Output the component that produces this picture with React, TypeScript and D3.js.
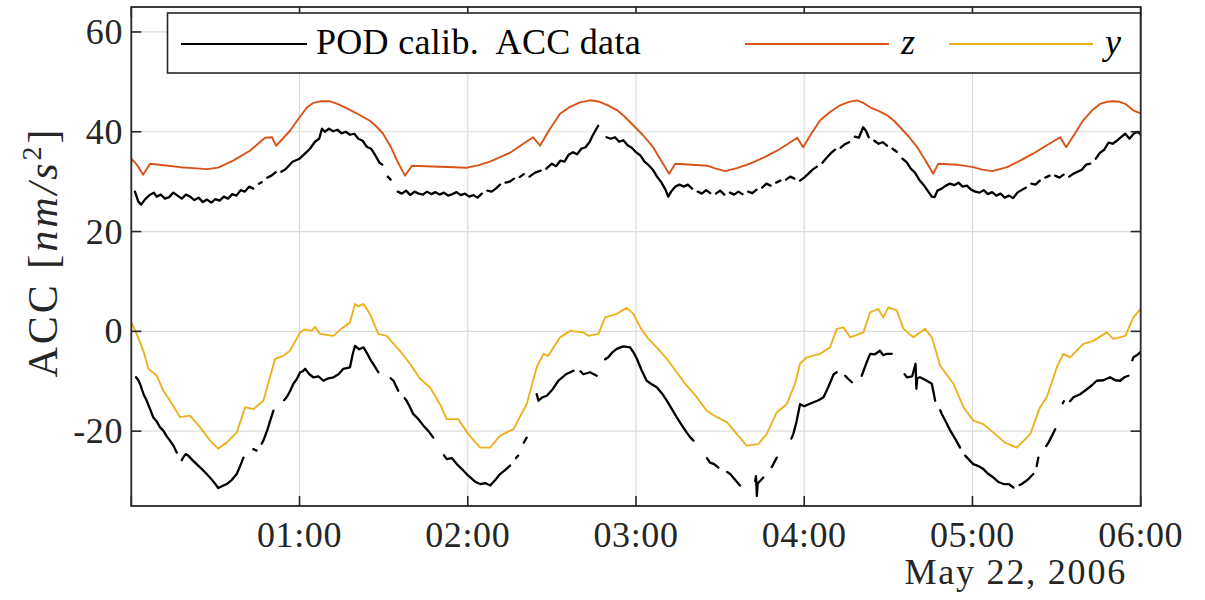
import React from "react";
import * as d3 from "d3";

// Time axis: minutes after 2006-05-22 00:00 UTC
type Pt = [number, number | null];

// Along-track z component, nm/s^2
const zSeries: Pt[] = [
  [0, 34.6], [2, 33.4], [4.2, 31.4], [6.7, 33.6], [10, 33.4], [17.4, 32.9], [22, 32.7], [27, 32.5],
  [31, 32.8], [36.3, 34.2], [42.3, 36.2], [47.7, 38.8], [50.2, 38.9], [51.6, 37.2], [54, 38.6],
  [56.6, 40.2], [59.5, 42.5], [62.7, 44.9], [65, 45.8], [67.3, 46.1], [70.9, 46.1], [73.5, 45.6],
  [76.2, 44.9], [80, 43.8], [85.1, 42.2], [87.5, 41.0], [89.8, 39.6], [92.5, 37.0], [94.8, 34.2],
  [97.6, 31.2], [100.1, 33.2], [105, 33.1], [110.1, 33.0], [115, 32.9], [119.7, 32.8], [124, 33.3],
  [127.9, 34.0], [131.5, 34.9], [135.1, 35.8], [139, 37.3], [143.3, 38.9], [145.8, 37.2], [149, 40.3],
  [152.9, 43.6], [156.5, 45.0], [160, 45.9], [163.6, 46.3], [167, 46.0], [170, 45.3], [173.3, 44.3],
  [176, 43.0], [179, 41.3], [182.5, 39.3], [186.1, 36.9], [189, 34.2], [191.8, 31.6], [194, 33.6],
  [200, 33.4], [205.4, 33.2], [208.5, 32.6], [211.8, 32.1], [216, 32.7], [220.7, 33.6], [225.5, 34.8],
  [230.3, 36.2], [234, 37.5], [237.5, 38.8], [239.6, 36.9], [242.5, 39.6], [245.7, 42.3], [249.3, 44.0],
  [252.8, 45.3], [256, 46.0], [258.9, 46.3], [261, 45.8], [263.5, 44.9], [266.5, 44.2], [269.6, 43.3],
  [272, 42.2], [274.2, 40.9], [277.3, 39.0], [280.3, 36.9], [283.2, 34.3], [286, 31.6], [287.8, 33.6],
  [294.5, 33.4], [300.2, 32.9], [303.5, 32.4], [307, 32.1], [312.4, 32.9], [317, 34.2], [321.6, 35.6],
  [326.5, 37.3], [331.3, 38.9], [333.4, 36.9], [336.5, 39.6], [339.5, 42.3], [342.5, 44.2], [345.6, 45.6],
  [348, 46.0], [350.2, 46.1], [352.5, 46.0], [354.5, 45.6], [357.3, 44.3], [360, 43.7],
];

// Cross-track y component, nm/s^2
const ySeries: Pt[] = [
  [0, 1.8], [1.9, -0.5], [4.3, -3.9], [6.1, -7.5], [9.1, -8.9], [11.4, -11.9], [13.8, -13.9],
  [17.4, -17.2], [20.9, -16.9], [24.5, -19.2], [28.1, -21.9], [31, -23.5], [34, -22.3], [37.6, -20.3],
  [40.6, -15.2], [43.5, -15.6], [47.1, -13.9], [51.3, -5.5], [54.2, -4.9], [56.6, -3.9], [60.2, -0.2],
  [62, 0.4], [64.3, 0.1], [65.5, 0.9], [67.3, -0.5], [72.1, -0.9], [74.4, 0.3], [78, 1.8], [79.8, 5.5],
  [81, 5.0], [82.8, 5.5], [85.1, 3.5], [88.1, -0.5], [91.1, -0.9], [95.8, -3.9], [99.4, -6.5],
  [103, -9.5], [106.5, -11.2], [110.1, -14.6], [112.5, -17.6], [116.6, -17.6], [120.2, -20.6],
  [124.4, -23.3], [128, -23.3], [131.5, -20.9], [136.3, -19.6], [141, -14.6], [144.6, -7.2],
  [147, -4.5], [148.7, -4.9], [152.9, -1.2], [156.5, 0.1], [161.2, -0.2], [163, -0.9], [166.6, -0.5],
  [169, 2.8], [173.1, 3.5], [176.7, 4.7], [179.1, 3.5], [181.5, 0.8], [184.4, -1.5], [187.4, -3.2],
  [191, -5.5], [194.5, -8.2], [198.1, -10.9], [201.7, -13.2], [205.2, -15.9], [208.8, -17.2],
  [212.4, -18.2], [216, -20.6], [219.5, -22.9], [223.6, -22.6], [226.6, -20.6], [230.2, -16.2],
  [233.8, -14.6], [236.7, -10.5], [238.5, -6.5], [240.9, -5.2], [245.7, -4.5], [249.2, -3.2],
  [251.6, 0.5], [254, 0.8], [256.4, -1.2], [261.1, -0.2], [263.5, 3.8], [266.4, 4.5], [268.2, 2.8],
  [270, 4.8], [273, 4.2], [275.4, 0.5], [278.9, -1.2], [283.1, 0.5], [285.5, -1.2], [288.5, -6.9],
  [293.2, -10.5], [296.8, -15.2], [300.3, -17.9], [303.9, -18.6], [307.5, -20.3], [311.6, -22.3],
  [315.8, -23.3], [320.6, -20.6], [324.1, -15.2], [326.5, -13.2], [330.1, -7.2], [332.4, -4.5],
  [334.8, -5.2], [339.6, -2.5], [343.1, -1.9], [347.9, -0.2], [350.3, -1.5], [354.5, -0.9],
  [357.4, 2.8], [360, 4.5],
];

// POD-calibrated accelerometer data, z component (null = data gap)
const podZ: Pt[] = [
  [1.3, 28.0], [2.5, 26.0], [3.5, 25.4], [5, 26.5], [6.5, 27.3], [8, 27.8], [9, 27.0], [10.5, 27.4],
  [12, 26.6], [13.5, 26.9], [15, 27.8], [16.5, 27.2], [18, 26.6], [19.5, 27.4], [21, 27.0], [22.5, 26.3],
  [24, 26.8], [25.5, 25.9], [27, 26.4], [28.5, 25.8], [30, 26.5], [31.5, 26.2], [33, 27.0], [34.5, 26.6],
  [36, 27.5], [37.5, 27.2], [39, 28.3], [40.5, 28.0], [42, 29.0], [43.5, 28.6], [44.5, null],
  [45.5, 29.6], [46.5, 29.9], [47.5, null], [48.5, 30.8], [50, 31.2], [51.5, 31.9], [52.5, null],
  [53.5, 32.0], [55, 32.5], [57.5, 34.0], [60, 34.6], [62.5, 35.9], [64, 36.8], [65.5, 38.0],
  [67, 38.6], [68, 40.6], [69, 40.0], [70.5, 40.6], [72, 40.1], [73.5, 40.4], [75, 39.7], [76.5, 40.0],
  [78, 39.4], [79.5, 39.6], [81, 38.6], [82.5, 38.2], [84, 37.0], [85.5, 36.6], [87, 35.3],
  [88.5, 33.8], [89.5, 33.4], [90.5, null], [91.5, 31.0], [92.5, 30.4], [93.5, null],
  [95, 28.0], [96.5, 27.6], [98, 28.2], [99.5, 27.3], [101, 28.0], [102.5, 27.6], [104, 27.4],
  [105.5, 28.0], [107, 27.5], [108.5, 27.9], [110, 27.4], [111.5, 27.8], [113, 27.2], [114.5, 27.5],
  [116, 27.9], [117.5, 27.3], [119, 27.6], [120.5, 27.0], [122, 27.3], [123.5, 26.8], [125, 27.6],
  [126, null], [127, 28.2], [128.5, 28.0], [130, 28.6], [131.5, 29.4], [132.5, null], [133.5, 29.8],
  [135, 30.0], [136.5, 30.6], [137.5, null], [138.5, 30.9], [140, 31.5], [141, null], [142, 31.0],
  [144, 31.8], [146, 32.2], [147, null], [148, 32.6], [150, 33.6], [151.5, 33.1], [153, 34.2],
  [154.5, 34.0], [156, 35.4], [157.5, 35.9], [159, 35.5], [160.5, 36.6], [162, 36.9], [163.5, 38.0],
  [164.5, 39.2], [165.5, 40.2], [166.5, 41.2], [168, null], [169.5, 38.9], [171, 38.6], [172.5, 38.9],
  [174, 38.0], [175.5, 38.3], [177, 37.3], [178.5, 36.8], [180, 35.9], [181.5, 35.3], [183, 34.0],
  [184.5, 33.3], [186, 32.4], [187.5, 31.0], [189, 29.9], [190.5, 28.4], [191.5, 27.0], [192.5, 28.0],
  [194, 29.0], [195.5, 29.4], [197, 29.0], [198.5, 29.4], [200, 28.6], [201, null], [202, 28.0],
  [203.5, 27.6], [205, 28.3], [206.5, 27.7], [207.5, null], [208.5, 27.6], [210, 28.2], [211.5, 27.4],
  [212.5, null], [213.5, 27.8], [215, 27.4], [216.5, 28.0], [218, 27.5], [219, null], [220, 28.0],
  [221.5, 27.7], [223, 28.4], [224, null], [225, 28.8], [226.5, 29.6], [228, 29.2], [229, null],
  [230, 29.8], [231.5, 30.2], [232.5, null], [233.5, 30.4], [235, 31.0], [236.5, 30.6], [237.5, null],
  [238.5, 30.2], [240, 30.8], [241.5, 31.6], [243, 32.4], [244.5, 33.0], [245.5, null], [246.5, 33.8],
  [248, 34.8], [249.5, 35.7], [251, 36.4], [252, null], [253, 36.8], [254.5, 37.5], [256, 37.9],
  [257, null], [258, 39.0], [259.5, 38.8], [261, 40.9], [262, 40.2], [263, 38.9], [264, null],
  [265, 38.2], [266.5, 37.6], [268, 37.9], [269.5, 37.2], [270.5, null], [271.5, 36.6], [273, 36.0],
  [274, null], [275, 34.6], [276.5, 33.9], [278, 32.6], [279.5, 31.8], [281, 30.4], [282.5, 29.4],
  [284, 28.2], [285.5, 27.0], [286.5, 26.9], [287.5, 28.2], [289, 28.6], [290.5, 29.2], [292, 29.6],
  [293.5, 29.3], [295, 29.8], [296.5, 29.0], [298, 29.2], [299.5, 28.4], [301, 28.0], [302.5, 27.8],
  [304, 28.3], [305.5, 27.5], [307, 27.9], [308.5, 27.2], [310, 27.6], [311.5, 26.8], [313, 27.2],
  [314.5, 26.7], [316, 27.8], [317.5, 28.3], [319, 28.8], [320, null], [321, 29.6], [322.5, 29.4],
  [324, 30.2], [325, null], [326, 30.8], [327.5, 31.2], [328.5, null], [329.5, 31.2], [331, 30.8],
  [332.5, 31.4], [333.5, null], [334.5, 31.0], [336, 31.6], [337.5, 32.0], [339, 32.4], [340.5, 33.4],
  [342, 33.6], [343, null], [344, 34.6], [345.5, 35.8], [347, 36.4], [348.5, 37.8], [350, 37.6],
  [351.5, 38.2], [353, 38.9], [354.5, 39.6], [356, 38.6], [357.5, 39.6], [359, 40.0], [360, 39.4],
];

// POD-calibrated accelerometer data, y component (null = data gap)
const podY: Pt[] = [
  [1.7, -9.2], [2.5, -9.8], [3.1, -10.5], [4.3, -12.5], [5.5, -13.9], [6.7, -15.6], [7.8, -17.2],
  [9, -18.0], [10.2, -19.2], [11.4, -19.9], [12.6, -21.0], [13.8, -21.9], [15, -22.9], [16.2, -24.3],
  [17, null], [18, -25.8], [18.5, -25.3], [19.4, -24.6], [20.3, -24.9], [21.8, -25.8], [23.3, -26.6],
  [25, -27.5], [26.9, -28.6], [28.5, -29.6], [30, -30.6], [31, -31.4], [32.5, -31.0], [34, -30.6],
  [35.8, -29.8], [37.6, -28.6], [38.8, -27.0], [40, -25.3], [41.5, null], [43.5, -23.6], [44.7, -23.9],
  [45.5, null], [46.5, -22.5], [47.1, -21.9], [48.5, -19.8], [49.6, -17.8], [50.7, -15.9], [52.5, null],
  [54.5, -13.8], [55.4, -13.2], [56.6, -12.0], [57.8, -10.5], [59, -9.6], [60.2, -8.2], [61.2, -8.0],
  [62, -7.5], [63.5, -8.6], [64.9, -9.2], [66.7, -9.0], [68.5, -9.9], [70.3, -9.4], [72.1, -9.2],
  [73.9, -8.6], [75.6, -7.5], [78, -7.2], [79, -4.5], [79.8, -2.9], [81.3, -3.6], [82.8, -3.2],
  [84, -4.3], [85.1, -5.5], [86.6, -6.8], [88.1, -8.2], [90, null], [92.5, -9.4], [93.5, -9.9],
  [95.2, -11.9], [96.3, null], [97.5, -13.4], [98.2, -13.9], [99.4, -15.2], [100.6, -16.6],
  [102.4, -17.6], [104.2, -18.9], [106, -20.0], [107.7, -21.3], [109.5, null], [111.5, -24.8],
  [112.5, -25.6], [114.3, -25.4], [116.1, -26.6], [117.9, -27.6], [119.6, -28.6], [121.2, -29.4],
  [122.8, -30.2], [124.4, -30.6], [126.2, -30.4], [128, -30.9], [129.8, -29.8], [131.5, -28.6],
  [133.3, -27.8], [135.1, -26.9], [136.2, null], [137.2, -25.4], [138, -24.9], [139, null],
  [140, -22.3], [141, -21.3], [143, null], [144.6, -12.6], [145.2, -13.9], [146.7, -13.2],
  [148.2, -12.9], [150.3, -11.6], [152.3, -9.9], [155, -8.6], [157.7, -7.9], [159, null],
  [160.2, -8.0], [161.2, -8.6], [163.6, -8.2], [166, -8.9], [167.5, null], [169, -5.6], [170.1, -5.2],
  [171.6, -4.2], [173.1, -3.5], [175.5, -3.0], [177.9, -3.2], [179.1, -4.2], [180.3, -5.5],
  [182, -7.8], [183.8, -9.9], [185.6, -10.6], [187.4, -11.2], [189.2, -12.4], [191, -13.9],
  [192.8, -15.6], [194.5, -17.2], [196.3, -18.8], [198.1, -20.3], [199.3, -21.2], [200.5, -21.9],
  [203, null], [205.3, -25.4], [206.4, -26.3], [207.9, -26.6], [209.4, -27.3], [211, null],
  [212.5, -28.2], [213.6, -28.6], [215.4, -29.8], [217.1, -30.9], [219.5, null], [222.5, -30.0],
  [222.8, -29.0], [223.1, -33.0], [223.4, -30.5], [225.4, -29.3], [227, null], [228.4, -27.2],
  [229, -26.6], [230.2, -25.3], [232.5, null], [235.4, -21.5], [236.1, -20.6], [237.2, -18.2],
  [238.5, -14.6], [240, -15.0], [241.6, -14.6], [243.3, -14.2], [245.1, -13.8], [246.9, -13.2],
  [248.7, -11.0], [250.5, -8.6], [251.6, -8.2], [253, null], [254.6, -8.9], [255.8, -9.6],
  [257, -10.2], [258.5, null], [260.5, -8.9], [262, -6.6], [263.5, -4.5], [265.2, -4.6], [267, -3.9],
  [268.2, -4.8], [269.4, -4.5], [271.2, -4.5], [273.5, null], [275.8, -8.6], [276.6, -9.2],
  [278.5, -9.0], [279.7, -6.5], [280, -11.5], [280.3, -9.4], [281.3, -9.2], [283.4, -9.8],
  [285.5, -10.5], [286.7, -13.9], [287.6, null], [288.5, -15.8], [289.1, -16.6], [290.6, -18.2],
  [292.1, -19.9], [293.9, -21.6], [295.6, -23.3], [296.5, null], [297.4, -24.9], [298.9, -25.8],
  [300.3, -26.6], [302.1, -27.0], [303.9, -27.6], [305.7, -28.6], [307.5, -29.3], [309.3, -30.2],
  [311.1, -30.6], [312.9, -30.6], [314.6, -31.3], [315.7, null], [316.8, -30.8], [317.6, -30.6],
  [319.6, -29.8], [321.7, -28.6], [322.3, null], [322.9, -27.0], [323.5, -25.3], [325, null],
  [326.3, -23.0], [327.1, -22.3], [328.3, -21.0], [329.5, -19.6], [331, null], [332.2, -14.4],
  [332.6, -14.0], [333.5, null], [334.8, -14.0], [336, -13.2], [338.4, -12.6], [340.8, -11.6],
  [342.6, -10.8], [344.3, -9.9], [346.7, -9.8], [349.1, -9.2], [350.9, -9.8], [352.7, -9.9],
  [354.2, -9.2], [355.6, -8.9], [356.3, null], [357, -5.8], [357.4, -5.2], [358.6, -4.8], [359.8, -4.2],
];

const yTicks = [-20, 0, 20, 40, 60];
const dateLabel = "May 22, 2006";
const legendLabels = ["POD calib. ACC data", "z", "y"];

const COLORS = { pod: "#000000", z: "#D95319", y: "#EDB120", axis: "#262626", grid: "#dcdcdc" };
const FONT = "'Liberation Serif', 'Times New Roman', serif";

const W = 1205;
const H = 600;
const M = { left: 131.3, right: 1140.7, top: 7, bottom: 506 };

const day0 = Date.UTC(2006, 4, 22, 0, 0);
const toDate = (m: number) => new Date(day0 + m * 60000);

export default function App() {
  const x = d3.scaleUtc().domain([toDate(0), toDate(360)]).range([M.left, M.right]);
  const y = d3.scaleLinear().domain([-35, 65]).range([M.bottom, M.top]);

  const line = d3
    .line<Pt>()
    .defined((d) => d[1] !== null)
    .x((d) => x(toDate(d[0])))
    .y((d) => y(d[1] as number));

  const hours = x.ticks(d3.utcHour.every(1)!);
  const fmt = d3.utcFormat("%H:%M");
  const tickLen = 10;

  const legY = 44;
  const legTextY = 54;

  return (
    <svg
      width={W}
      height={H}
      style={{ position: "absolute", left: 0, top: 0, background: "#fff" }}
      fontFamily={FONT}
    >
      <defs>
        <clipPath id="plot-clip">
          <rect x={M.left} y={M.top} width={M.right - M.left} height={M.bottom - M.top} />
        </clipPath>
      </defs>

      {/* grid */}
      <g stroke={COLORS.grid} strokeWidth={1.2}>
        {hours
          .filter((h) => +h > +toDate(0) && +h < +toDate(360))
          .map((h) => (
            <line key={+h} x1={x(h)} x2={x(h)} y1={M.top} y2={M.bottom} />
          ))}
        {yTicks.map((v) => (
          <line key={v} x1={M.left} x2={M.right} y1={y(v)} y2={y(v)} />
        ))}
      </g>

      {/* series */}
      <g clipPath="url(#plot-clip)" fill="none" strokeLinejoin="round" strokeLinecap="round">
        <path d={line(podZ) ?? ""} stroke={COLORS.pod} strokeWidth={2.3} />
        <path d={line(podY) ?? ""} stroke={COLORS.pod} strokeWidth={2.3} />
        <path d={line(zSeries) ?? ""} stroke={COLORS.z} strokeWidth={1.9} />
        <path d={line(ySeries) ?? ""} stroke={COLORS.y} strokeWidth={1.9} />
      </g>

      {/* ticks */}
      <g stroke={COLORS.axis} strokeWidth={1.6}>
        {hours.map((h) => (
          <g key={+h}>
            <line x1={x(h)} x2={x(h)} y1={M.bottom} y2={M.bottom - tickLen} />
            <line x1={x(h)} x2={x(h)} y1={M.top} y2={M.top + tickLen} />
          </g>
        ))}
        {yTicks.map((v) => (
          <g key={v}>
            <line x1={M.left} x2={M.left + tickLen} y1={y(v)} y2={y(v)} />
            <line x1={M.right} x2={M.right - tickLen} y1={y(v)} y2={y(v)} />
          </g>
        ))}
      </g>

      {/* frame */}
      <rect
        x={M.left}
        y={M.top}
        width={M.right - M.left}
        height={M.bottom - M.top}
        fill="none"
        stroke={COLORS.axis}
        strokeWidth={1.8}
      />

      {/* tick labels */}
      <g fill={COLORS.axis} fontSize={36}>
        {hours
          .filter((h) => +h > +toDate(0))
          .map((h) => (
            <text key={+h} x={x(h)} y={547} textAnchor="middle" letterSpacing={0.6}>
              {fmt(h)}
            </text>
          ))}
        {yTicks.map((v) => (
          <text key={v} x={123} y={y(v) + 12} textAnchor="end" letterSpacing={0.6}>
            {v}
          </text>
        ))}
        <text x={1127} y={584} textAnchor="end" letterSpacing={1.8}>
          {dateLabel}
        </text>
      </g>

      {/* y-axis title */}
      <text
        transform={`translate(57, 252) rotate(-90)`}
        textAnchor="middle"
        fontSize={42}
        fill={COLORS.axis}
        letterSpacing={3}
      >
        ACC [<tspan fontStyle="italic">nm</tspan>
        <tspan fontStyle="italic">/s</tspan>
        <tspan dy={-16} fontSize={28}>2</tspan>
        <tspan dy={16}>]</tspan>
      </text>

      {/* legend */}
      <g>
        <rect x={167.5} y={13} width={973} height={60} fill="#fff" stroke={COLORS.axis} strokeWidth={1.6} />
        <line x1={181} x2={307} y1={legY} y2={legY} stroke={COLORS.pod} strokeWidth={2} />
        <text x={316} y={legTextY} fontSize={36} fill="#000" letterSpacing={0.3} xmlSpace="preserve">
          {"POD calib.  ACC data"}
        </text>
        <line x1={745} x2={889} y1={legY} y2={legY} stroke={COLORS.z} strokeWidth={2} />
        <text x={901} y={legTextY} fontSize={36} fontStyle="italic" fill="#000">
          {legendLabels[1]}
        </text>
        <line x1={949} x2={1093} y1={legY} y2={legY} stroke={COLORS.y} strokeWidth={2} />
        <text x={1105} y={legTextY} fontSize={36} fontStyle="italic" fill="#000">
          {legendLabels[2]}
        </text>
      </g>
    </svg>
  );
}
